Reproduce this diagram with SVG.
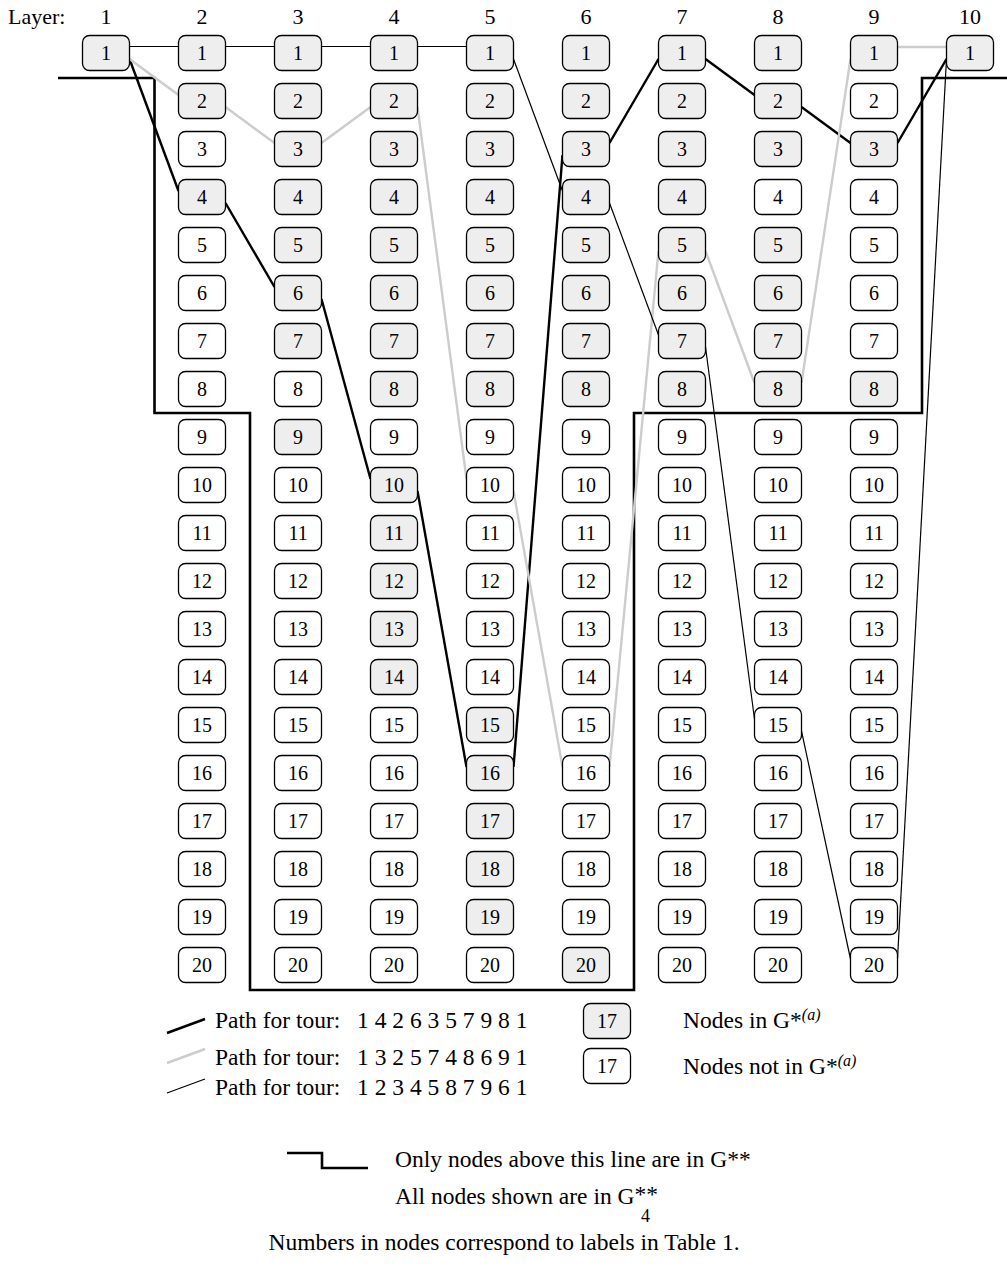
<svg xmlns="http://www.w3.org/2000/svg" width="1007" height="1268" viewBox="0 0 1007 1268">
<style>
.node rect{stroke:#000;stroke-width:1.3}
.g rect{fill:#eeeeee}
.w rect{fill:#ffffff}
.node text{font-family:"Liberation Serif","Times New Roman",serif;font-size:20px;text-anchor:middle;fill:#000}
.lbl{font-family:"Liberation Serif","Times New Roman",serif;font-size:22px;fill:#000}
.leg{font-family:"Liberation Serif","Times New Roman",serif;font-size:23.5px;fill:#000}
.mid{text-anchor:middle}
.thick{stroke:#000;stroke-width:2.4;fill:none}
.gray{stroke:#cccccc;stroke-width:2.4;fill:none}
.thin{stroke:#000;stroke-width:1.2;fill:none}
.bound{stroke:#000;stroke-width:2.6;fill:none}
</style>
<rect width="1007" height="1268" fill="#fff"/>
<g id="layer-labels">
<text class="lbl" x="8" y="24">Layer:</text>
<text class="lbl mid" x="106" y="24">1</text>
<text class="lbl mid" x="202" y="24">2</text>
<text class="lbl mid" x="298" y="24">3</text>
<text class="lbl mid" x="394" y="24">4</text>
<text class="lbl mid" x="490" y="24">5</text>
<text class="lbl mid" x="586" y="24">6</text>
<text class="lbl mid" x="682" y="24">7</text>
<text class="lbl mid" x="778" y="24">8</text>
<text class="lbl mid" x="874" y="24">9</text>
<text class="lbl mid" x="970" y="24">10</text>
</g>
<path id="gstarstar-boundary" class="bound" d="M58 78 H154.5 V413 H250 V990 H634 V413 H922 V78 H1007"/>
<g id="connectors">
<g id="tour-thick">
<line class="thick" x1="129.5" y1="59" x2="178.5" y2="191"/>
<line class="thick" x1="225.5" y1="203" x2="274.5" y2="287"/>
<line class="thick" x1="321.5" y1="299" x2="370.5" y2="479"/>
<line class="thick" x1="417.5" y1="491" x2="466.5" y2="767"/>
<line class="thick" x1="513.5" y1="767" x2="562.5" y2="155"/>
<line class="thick" x1="609.5" y1="143" x2="658.5" y2="59"/>
<line class="thick" x1="705.5" y1="59" x2="754.5" y2="95"/>
<line class="thick" x1="801.5" y1="107" x2="850.5" y2="143"/>
<line class="thick" x1="897.5" y1="143" x2="946.5" y2="59"/>
</g>
<g id="tour-gray">
<line class="gray" x1="129.5" y1="59" x2="178.5" y2="95"/>
<line class="gray" x1="225.5" y1="107" x2="274.5" y2="143"/>
<line class="gray" x1="321.5" y1="143" x2="370.5" y2="107"/>
<line class="gray" x1="417.5" y1="107" x2="466.5" y2="479"/>
<line class="gray" x1="513.5" y1="491" x2="562.5" y2="767"/>
<line class="gray" x1="609.5" y1="767" x2="658.5" y2="251"/>
<line class="gray" x1="705.5" y1="251" x2="754.5" y2="383"/>
<line class="gray" x1="801.5" y1="383" x2="850.5" y2="59"/>
<line class="gray" x1="897.5" y1="47" x2="946.5" y2="47"/>
</g>
<g id="tour-thin">
<line class="thin" x1="129.5" y1="46.5" x2="178.5" y2="46.5"/>
<line class="thin" x1="225.5" y1="46.5" x2="274.5" y2="46.5"/>
<line class="thin" x1="321.5" y1="46.5" x2="370.5" y2="46.5"/>
<line class="thin" x1="417.5" y1="46.5" x2="466.5" y2="46.5"/>
<line class="thin" x1="513.5" y1="59" x2="562.5" y2="191"/>
<line class="thin" x1="609.5" y1="203" x2="658.5" y2="335"/>
<line class="thin" x1="705.5" y1="347" x2="754.5" y2="719"/>
<line class="thin" x1="801.5" y1="731" x2="850.5" y2="959"/>
<line class="thin" x1="897.5" y1="959" x2="946.5" y2="59"/>
</g>
</g>
<g id="nodes">
<g id="L1n1" class="node g" transform="translate(106,53)"><rect x="-23.5" y="-17.5" width="47" height="35" rx="7"/><text y="7">1</text></g>
<g id="L2n1" class="node g" transform="translate(202,53)"><rect x="-23.5" y="-17.5" width="47" height="35" rx="7"/><text y="7">1</text></g>
<g id="L2n2" class="node g" transform="translate(202,101)"><rect x="-23.5" y="-17.5" width="47" height="35" rx="7"/><text y="7">2</text></g>
<g id="L2n3" class="node w" transform="translate(202,149)"><rect x="-23.5" y="-17.5" width="47" height="35" rx="7"/><text y="7">3</text></g>
<g id="L2n4" class="node g" transform="translate(202,197)"><rect x="-23.5" y="-17.5" width="47" height="35" rx="7"/><text y="7">4</text></g>
<g id="L2n5" class="node w" transform="translate(202,245)"><rect x="-23.5" y="-17.5" width="47" height="35" rx="7"/><text y="7">5</text></g>
<g id="L2n6" class="node w" transform="translate(202,293)"><rect x="-23.5" y="-17.5" width="47" height="35" rx="7"/><text y="7">6</text></g>
<g id="L2n7" class="node w" transform="translate(202,341)"><rect x="-23.5" y="-17.5" width="47" height="35" rx="7"/><text y="7">7</text></g>
<g id="L2n8" class="node w" transform="translate(202,389)"><rect x="-23.5" y="-17.5" width="47" height="35" rx="7"/><text y="7">8</text></g>
<g id="L2n9" class="node w" transform="translate(202,437)"><rect x="-23.5" y="-17.5" width="47" height="35" rx="7"/><text y="7">9</text></g>
<g id="L2n10" class="node w" transform="translate(202,485)"><rect x="-23.5" y="-17.5" width="47" height="35" rx="7"/><text y="7">10</text></g>
<g id="L2n11" class="node w" transform="translate(202,533)"><rect x="-23.5" y="-17.5" width="47" height="35" rx="7"/><text y="7">11</text></g>
<g id="L2n12" class="node w" transform="translate(202,581)"><rect x="-23.5" y="-17.5" width="47" height="35" rx="7"/><text y="7">12</text></g>
<g id="L2n13" class="node w" transform="translate(202,629)"><rect x="-23.5" y="-17.5" width="47" height="35" rx="7"/><text y="7">13</text></g>
<g id="L2n14" class="node w" transform="translate(202,677)"><rect x="-23.5" y="-17.5" width="47" height="35" rx="7"/><text y="7">14</text></g>
<g id="L2n15" class="node w" transform="translate(202,725)"><rect x="-23.5" y="-17.5" width="47" height="35" rx="7"/><text y="7">15</text></g>
<g id="L2n16" class="node w" transform="translate(202,773)"><rect x="-23.5" y="-17.5" width="47" height="35" rx="7"/><text y="7">16</text></g>
<g id="L2n17" class="node w" transform="translate(202,821)"><rect x="-23.5" y="-17.5" width="47" height="35" rx="7"/><text y="7">17</text></g>
<g id="L2n18" class="node w" transform="translate(202,869)"><rect x="-23.5" y="-17.5" width="47" height="35" rx="7"/><text y="7">18</text></g>
<g id="L2n19" class="node w" transform="translate(202,917)"><rect x="-23.5" y="-17.5" width="47" height="35" rx="7"/><text y="7">19</text></g>
<g id="L2n20" class="node w" transform="translate(202,965)"><rect x="-23.5" y="-17.5" width="47" height="35" rx="7"/><text y="7">20</text></g>
<g id="L3n1" class="node g" transform="translate(298,53)"><rect x="-23.5" y="-17.5" width="47" height="35" rx="7"/><text y="7">1</text></g>
<g id="L3n2" class="node g" transform="translate(298,101)"><rect x="-23.5" y="-17.5" width="47" height="35" rx="7"/><text y="7">2</text></g>
<g id="L3n3" class="node g" transform="translate(298,149)"><rect x="-23.5" y="-17.5" width="47" height="35" rx="7"/><text y="7">3</text></g>
<g id="L3n4" class="node g" transform="translate(298,197)"><rect x="-23.5" y="-17.5" width="47" height="35" rx="7"/><text y="7">4</text></g>
<g id="L3n5" class="node g" transform="translate(298,245)"><rect x="-23.5" y="-17.5" width="47" height="35" rx="7"/><text y="7">5</text></g>
<g id="L3n6" class="node g" transform="translate(298,293)"><rect x="-23.5" y="-17.5" width="47" height="35" rx="7"/><text y="7">6</text></g>
<g id="L3n7" class="node g" transform="translate(298,341)"><rect x="-23.5" y="-17.5" width="47" height="35" rx="7"/><text y="7">7</text></g>
<g id="L3n8" class="node w" transform="translate(298,389)"><rect x="-23.5" y="-17.5" width="47" height="35" rx="7"/><text y="7">8</text></g>
<g id="L3n9" class="node g" transform="translate(298,437)"><rect x="-23.5" y="-17.5" width="47" height="35" rx="7"/><text y="7">9</text></g>
<g id="L3n10" class="node w" transform="translate(298,485)"><rect x="-23.5" y="-17.5" width="47" height="35" rx="7"/><text y="7">10</text></g>
<g id="L3n11" class="node w" transform="translate(298,533)"><rect x="-23.5" y="-17.5" width="47" height="35" rx="7"/><text y="7">11</text></g>
<g id="L3n12" class="node w" transform="translate(298,581)"><rect x="-23.5" y="-17.5" width="47" height="35" rx="7"/><text y="7">12</text></g>
<g id="L3n13" class="node w" transform="translate(298,629)"><rect x="-23.5" y="-17.5" width="47" height="35" rx="7"/><text y="7">13</text></g>
<g id="L3n14" class="node w" transform="translate(298,677)"><rect x="-23.5" y="-17.5" width="47" height="35" rx="7"/><text y="7">14</text></g>
<g id="L3n15" class="node w" transform="translate(298,725)"><rect x="-23.5" y="-17.5" width="47" height="35" rx="7"/><text y="7">15</text></g>
<g id="L3n16" class="node w" transform="translate(298,773)"><rect x="-23.5" y="-17.5" width="47" height="35" rx="7"/><text y="7">16</text></g>
<g id="L3n17" class="node w" transform="translate(298,821)"><rect x="-23.5" y="-17.5" width="47" height="35" rx="7"/><text y="7">17</text></g>
<g id="L3n18" class="node w" transform="translate(298,869)"><rect x="-23.5" y="-17.5" width="47" height="35" rx="7"/><text y="7">18</text></g>
<g id="L3n19" class="node w" transform="translate(298,917)"><rect x="-23.5" y="-17.5" width="47" height="35" rx="7"/><text y="7">19</text></g>
<g id="L3n20" class="node w" transform="translate(298,965)"><rect x="-23.5" y="-17.5" width="47" height="35" rx="7"/><text y="7">20</text></g>
<g id="L4n1" class="node g" transform="translate(394,53)"><rect x="-23.5" y="-17.5" width="47" height="35" rx="7"/><text y="7">1</text></g>
<g id="L4n2" class="node g" transform="translate(394,101)"><rect x="-23.5" y="-17.5" width="47" height="35" rx="7"/><text y="7">2</text></g>
<g id="L4n3" class="node g" transform="translate(394,149)"><rect x="-23.5" y="-17.5" width="47" height="35" rx="7"/><text y="7">3</text></g>
<g id="L4n4" class="node g" transform="translate(394,197)"><rect x="-23.5" y="-17.5" width="47" height="35" rx="7"/><text y="7">4</text></g>
<g id="L4n5" class="node g" transform="translate(394,245)"><rect x="-23.5" y="-17.5" width="47" height="35" rx="7"/><text y="7">5</text></g>
<g id="L4n6" class="node g" transform="translate(394,293)"><rect x="-23.5" y="-17.5" width="47" height="35" rx="7"/><text y="7">6</text></g>
<g id="L4n7" class="node g" transform="translate(394,341)"><rect x="-23.5" y="-17.5" width="47" height="35" rx="7"/><text y="7">7</text></g>
<g id="L4n8" class="node g" transform="translate(394,389)"><rect x="-23.5" y="-17.5" width="47" height="35" rx="7"/><text y="7">8</text></g>
<g id="L4n9" class="node w" transform="translate(394,437)"><rect x="-23.5" y="-17.5" width="47" height="35" rx="7"/><text y="7">9</text></g>
<g id="L4n10" class="node g" transform="translate(394,485)"><rect x="-23.5" y="-17.5" width="47" height="35" rx="7"/><text y="7">10</text></g>
<g id="L4n11" class="node g" transform="translate(394,533)"><rect x="-23.5" y="-17.5" width="47" height="35" rx="7"/><text y="7">11</text></g>
<g id="L4n12" class="node g" transform="translate(394,581)"><rect x="-23.5" y="-17.5" width="47" height="35" rx="7"/><text y="7">12</text></g>
<g id="L4n13" class="node g" transform="translate(394,629)"><rect x="-23.5" y="-17.5" width="47" height="35" rx="7"/><text y="7">13</text></g>
<g id="L4n14" class="node g" transform="translate(394,677)"><rect x="-23.5" y="-17.5" width="47" height="35" rx="7"/><text y="7">14</text></g>
<g id="L4n15" class="node w" transform="translate(394,725)"><rect x="-23.5" y="-17.5" width="47" height="35" rx="7"/><text y="7">15</text></g>
<g id="L4n16" class="node w" transform="translate(394,773)"><rect x="-23.5" y="-17.5" width="47" height="35" rx="7"/><text y="7">16</text></g>
<g id="L4n17" class="node w" transform="translate(394,821)"><rect x="-23.5" y="-17.5" width="47" height="35" rx="7"/><text y="7">17</text></g>
<g id="L4n18" class="node w" transform="translate(394,869)"><rect x="-23.5" y="-17.5" width="47" height="35" rx="7"/><text y="7">18</text></g>
<g id="L4n19" class="node w" transform="translate(394,917)"><rect x="-23.5" y="-17.5" width="47" height="35" rx="7"/><text y="7">19</text></g>
<g id="L4n20" class="node w" transform="translate(394,965)"><rect x="-23.5" y="-17.5" width="47" height="35" rx="7"/><text y="7">20</text></g>
<g id="L5n1" class="node g" transform="translate(490,53)"><rect x="-23.5" y="-17.5" width="47" height="35" rx="7"/><text y="7">1</text></g>
<g id="L5n2" class="node g" transform="translate(490,101)"><rect x="-23.5" y="-17.5" width="47" height="35" rx="7"/><text y="7">2</text></g>
<g id="L5n3" class="node g" transform="translate(490,149)"><rect x="-23.5" y="-17.5" width="47" height="35" rx="7"/><text y="7">3</text></g>
<g id="L5n4" class="node g" transform="translate(490,197)"><rect x="-23.5" y="-17.5" width="47" height="35" rx="7"/><text y="7">4</text></g>
<g id="L5n5" class="node g" transform="translate(490,245)"><rect x="-23.5" y="-17.5" width="47" height="35" rx="7"/><text y="7">5</text></g>
<g id="L5n6" class="node g" transform="translate(490,293)"><rect x="-23.5" y="-17.5" width="47" height="35" rx="7"/><text y="7">6</text></g>
<g id="L5n7" class="node g" transform="translate(490,341)"><rect x="-23.5" y="-17.5" width="47" height="35" rx="7"/><text y="7">7</text></g>
<g id="L5n8" class="node g" transform="translate(490,389)"><rect x="-23.5" y="-17.5" width="47" height="35" rx="7"/><text y="7">8</text></g>
<g id="L5n9" class="node w" transform="translate(490,437)"><rect x="-23.5" y="-17.5" width="47" height="35" rx="7"/><text y="7">9</text></g>
<g id="L5n10" class="node w" transform="translate(490,485)"><rect x="-23.5" y="-17.5" width="47" height="35" rx="7"/><text y="7">10</text></g>
<g id="L5n11" class="node w" transform="translate(490,533)"><rect x="-23.5" y="-17.5" width="47" height="35" rx="7"/><text y="7">11</text></g>
<g id="L5n12" class="node w" transform="translate(490,581)"><rect x="-23.5" y="-17.5" width="47" height="35" rx="7"/><text y="7">12</text></g>
<g id="L5n13" class="node w" transform="translate(490,629)"><rect x="-23.5" y="-17.5" width="47" height="35" rx="7"/><text y="7">13</text></g>
<g id="L5n14" class="node w" transform="translate(490,677)"><rect x="-23.5" y="-17.5" width="47" height="35" rx="7"/><text y="7">14</text></g>
<g id="L5n15" class="node g" transform="translate(490,725)"><rect x="-23.5" y="-17.5" width="47" height="35" rx="7"/><text y="7">15</text></g>
<g id="L5n16" class="node g" transform="translate(490,773)"><rect x="-23.5" y="-17.5" width="47" height="35" rx="7"/><text y="7">16</text></g>
<g id="L5n17" class="node g" transform="translate(490,821)"><rect x="-23.5" y="-17.5" width="47" height="35" rx="7"/><text y="7">17</text></g>
<g id="L5n18" class="node g" transform="translate(490,869)"><rect x="-23.5" y="-17.5" width="47" height="35" rx="7"/><text y="7">18</text></g>
<g id="L5n19" class="node g" transform="translate(490,917)"><rect x="-23.5" y="-17.5" width="47" height="35" rx="7"/><text y="7">19</text></g>
<g id="L5n20" class="node w" transform="translate(490,965)"><rect x="-23.5" y="-17.5" width="47" height="35" rx="7"/><text y="7">20</text></g>
<g id="L6n1" class="node g" transform="translate(586,53)"><rect x="-23.5" y="-17.5" width="47" height="35" rx="7"/><text y="7">1</text></g>
<g id="L6n2" class="node g" transform="translate(586,101)"><rect x="-23.5" y="-17.5" width="47" height="35" rx="7"/><text y="7">2</text></g>
<g id="L6n3" class="node g" transform="translate(586,149)"><rect x="-23.5" y="-17.5" width="47" height="35" rx="7"/><text y="7">3</text></g>
<g id="L6n4" class="node g" transform="translate(586,197)"><rect x="-23.5" y="-17.5" width="47" height="35" rx="7"/><text y="7">4</text></g>
<g id="L6n5" class="node g" transform="translate(586,245)"><rect x="-23.5" y="-17.5" width="47" height="35" rx="7"/><text y="7">5</text></g>
<g id="L6n6" class="node g" transform="translate(586,293)"><rect x="-23.5" y="-17.5" width="47" height="35" rx="7"/><text y="7">6</text></g>
<g id="L6n7" class="node g" transform="translate(586,341)"><rect x="-23.5" y="-17.5" width="47" height="35" rx="7"/><text y="7">7</text></g>
<g id="L6n8" class="node g" transform="translate(586,389)"><rect x="-23.5" y="-17.5" width="47" height="35" rx="7"/><text y="7">8</text></g>
<g id="L6n9" class="node w" transform="translate(586,437)"><rect x="-23.5" y="-17.5" width="47" height="35" rx="7"/><text y="7">9</text></g>
<g id="L6n10" class="node w" transform="translate(586,485)"><rect x="-23.5" y="-17.5" width="47" height="35" rx="7"/><text y="7">10</text></g>
<g id="L6n11" class="node w" transform="translate(586,533)"><rect x="-23.5" y="-17.5" width="47" height="35" rx="7"/><text y="7">11</text></g>
<g id="L6n12" class="node w" transform="translate(586,581)"><rect x="-23.5" y="-17.5" width="47" height="35" rx="7"/><text y="7">12</text></g>
<g id="L6n13" class="node w" transform="translate(586,629)"><rect x="-23.5" y="-17.5" width="47" height="35" rx="7"/><text y="7">13</text></g>
<g id="L6n14" class="node w" transform="translate(586,677)"><rect x="-23.5" y="-17.5" width="47" height="35" rx="7"/><text y="7">14</text></g>
<g id="L6n15" class="node w" transform="translate(586,725)"><rect x="-23.5" y="-17.5" width="47" height="35" rx="7"/><text y="7">15</text></g>
<g id="L6n16" class="node w" transform="translate(586,773)"><rect x="-23.5" y="-17.5" width="47" height="35" rx="7"/><text y="7">16</text></g>
<g id="L6n17" class="node w" transform="translate(586,821)"><rect x="-23.5" y="-17.5" width="47" height="35" rx="7"/><text y="7">17</text></g>
<g id="L6n18" class="node w" transform="translate(586,869)"><rect x="-23.5" y="-17.5" width="47" height="35" rx="7"/><text y="7">18</text></g>
<g id="L6n19" class="node w" transform="translate(586,917)"><rect x="-23.5" y="-17.5" width="47" height="35" rx="7"/><text y="7">19</text></g>
<g id="L6n20" class="node g" transform="translate(586,965)"><rect x="-23.5" y="-17.5" width="47" height="35" rx="7"/><text y="7">20</text></g>
<g id="L7n1" class="node g" transform="translate(682,53)"><rect x="-23.5" y="-17.5" width="47" height="35" rx="7"/><text y="7">1</text></g>
<g id="L7n2" class="node g" transform="translate(682,101)"><rect x="-23.5" y="-17.5" width="47" height="35" rx="7"/><text y="7">2</text></g>
<g id="L7n3" class="node g" transform="translate(682,149)"><rect x="-23.5" y="-17.5" width="47" height="35" rx="7"/><text y="7">3</text></g>
<g id="L7n4" class="node g" transform="translate(682,197)"><rect x="-23.5" y="-17.5" width="47" height="35" rx="7"/><text y="7">4</text></g>
<g id="L7n5" class="node g" transform="translate(682,245)"><rect x="-23.5" y="-17.5" width="47" height="35" rx="7"/><text y="7">5</text></g>
<g id="L7n6" class="node g" transform="translate(682,293)"><rect x="-23.5" y="-17.5" width="47" height="35" rx="7"/><text y="7">6</text></g>
<g id="L7n7" class="node g" transform="translate(682,341)"><rect x="-23.5" y="-17.5" width="47" height="35" rx="7"/><text y="7">7</text></g>
<g id="L7n8" class="node g" transform="translate(682,389)"><rect x="-23.5" y="-17.5" width="47" height="35" rx="7"/><text y="7">8</text></g>
<g id="L7n9" class="node w" transform="translate(682,437)"><rect x="-23.5" y="-17.5" width="47" height="35" rx="7"/><text y="7">9</text></g>
<g id="L7n10" class="node w" transform="translate(682,485)"><rect x="-23.5" y="-17.5" width="47" height="35" rx="7"/><text y="7">10</text></g>
<g id="L7n11" class="node w" transform="translate(682,533)"><rect x="-23.5" y="-17.5" width="47" height="35" rx="7"/><text y="7">11</text></g>
<g id="L7n12" class="node w" transform="translate(682,581)"><rect x="-23.5" y="-17.5" width="47" height="35" rx="7"/><text y="7">12</text></g>
<g id="L7n13" class="node w" transform="translate(682,629)"><rect x="-23.5" y="-17.5" width="47" height="35" rx="7"/><text y="7">13</text></g>
<g id="L7n14" class="node w" transform="translate(682,677)"><rect x="-23.5" y="-17.5" width="47" height="35" rx="7"/><text y="7">14</text></g>
<g id="L7n15" class="node w" transform="translate(682,725)"><rect x="-23.5" y="-17.5" width="47" height="35" rx="7"/><text y="7">15</text></g>
<g id="L7n16" class="node w" transform="translate(682,773)"><rect x="-23.5" y="-17.5" width="47" height="35" rx="7"/><text y="7">16</text></g>
<g id="L7n17" class="node w" transform="translate(682,821)"><rect x="-23.5" y="-17.5" width="47" height="35" rx="7"/><text y="7">17</text></g>
<g id="L7n18" class="node w" transform="translate(682,869)"><rect x="-23.5" y="-17.5" width="47" height="35" rx="7"/><text y="7">18</text></g>
<g id="L7n19" class="node w" transform="translate(682,917)"><rect x="-23.5" y="-17.5" width="47" height="35" rx="7"/><text y="7">19</text></g>
<g id="L7n20" class="node w" transform="translate(682,965)"><rect x="-23.5" y="-17.5" width="47" height="35" rx="7"/><text y="7">20</text></g>
<g id="L8n1" class="node g" transform="translate(778,53)"><rect x="-23.5" y="-17.5" width="47" height="35" rx="7"/><text y="7">1</text></g>
<g id="L8n2" class="node g" transform="translate(778,101)"><rect x="-23.5" y="-17.5" width="47" height="35" rx="7"/><text y="7">2</text></g>
<g id="L8n3" class="node g" transform="translate(778,149)"><rect x="-23.5" y="-17.5" width="47" height="35" rx="7"/><text y="7">3</text></g>
<g id="L8n4" class="node w" transform="translate(778,197)"><rect x="-23.5" y="-17.5" width="47" height="35" rx="7"/><text y="7">4</text></g>
<g id="L8n5" class="node g" transform="translate(778,245)"><rect x="-23.5" y="-17.5" width="47" height="35" rx="7"/><text y="7">5</text></g>
<g id="L8n6" class="node g" transform="translate(778,293)"><rect x="-23.5" y="-17.5" width="47" height="35" rx="7"/><text y="7">6</text></g>
<g id="L8n7" class="node g" transform="translate(778,341)"><rect x="-23.5" y="-17.5" width="47" height="35" rx="7"/><text y="7">7</text></g>
<g id="L8n8" class="node g" transform="translate(778,389)"><rect x="-23.5" y="-17.5" width="47" height="35" rx="7"/><text y="7">8</text></g>
<g id="L8n9" class="node w" transform="translate(778,437)"><rect x="-23.5" y="-17.5" width="47" height="35" rx="7"/><text y="7">9</text></g>
<g id="L8n10" class="node w" transform="translate(778,485)"><rect x="-23.5" y="-17.5" width="47" height="35" rx="7"/><text y="7">10</text></g>
<g id="L8n11" class="node w" transform="translate(778,533)"><rect x="-23.5" y="-17.5" width="47" height="35" rx="7"/><text y="7">11</text></g>
<g id="L8n12" class="node w" transform="translate(778,581)"><rect x="-23.5" y="-17.5" width="47" height="35" rx="7"/><text y="7">12</text></g>
<g id="L8n13" class="node w" transform="translate(778,629)"><rect x="-23.5" y="-17.5" width="47" height="35" rx="7"/><text y="7">13</text></g>
<g id="L8n14" class="node w" transform="translate(778,677)"><rect x="-23.5" y="-17.5" width="47" height="35" rx="7"/><text y="7">14</text></g>
<g id="L8n15" class="node w" transform="translate(778,725)"><rect x="-23.5" y="-17.5" width="47" height="35" rx="7"/><text y="7">15</text></g>
<g id="L8n16" class="node w" transform="translate(778,773)"><rect x="-23.5" y="-17.5" width="47" height="35" rx="7"/><text y="7">16</text></g>
<g id="L8n17" class="node w" transform="translate(778,821)"><rect x="-23.5" y="-17.5" width="47" height="35" rx="7"/><text y="7">17</text></g>
<g id="L8n18" class="node w" transform="translate(778,869)"><rect x="-23.5" y="-17.5" width="47" height="35" rx="7"/><text y="7">18</text></g>
<g id="L8n19" class="node w" transform="translate(778,917)"><rect x="-23.5" y="-17.5" width="47" height="35" rx="7"/><text y="7">19</text></g>
<g id="L8n20" class="node w" transform="translate(778,965)"><rect x="-23.5" y="-17.5" width="47" height="35" rx="7"/><text y="7">20</text></g>
<g id="L9n1" class="node g" transform="translate(874,53)"><rect x="-23.5" y="-17.5" width="47" height="35" rx="7"/><text y="7">1</text></g>
<g id="L9n2" class="node w" transform="translate(874,101)"><rect x="-23.5" y="-17.5" width="47" height="35" rx="7"/><text y="7">2</text></g>
<g id="L9n3" class="node g" transform="translate(874,149)"><rect x="-23.5" y="-17.5" width="47" height="35" rx="7"/><text y="7">3</text></g>
<g id="L9n4" class="node w" transform="translate(874,197)"><rect x="-23.5" y="-17.5" width="47" height="35" rx="7"/><text y="7">4</text></g>
<g id="L9n5" class="node w" transform="translate(874,245)"><rect x="-23.5" y="-17.5" width="47" height="35" rx="7"/><text y="7">5</text></g>
<g id="L9n6" class="node w" transform="translate(874,293)"><rect x="-23.5" y="-17.5" width="47" height="35" rx="7"/><text y="7">6</text></g>
<g id="L9n7" class="node w" transform="translate(874,341)"><rect x="-23.5" y="-17.5" width="47" height="35" rx="7"/><text y="7">7</text></g>
<g id="L9n8" class="node g" transform="translate(874,389)"><rect x="-23.5" y="-17.5" width="47" height="35" rx="7"/><text y="7">8</text></g>
<g id="L9n9" class="node w" transform="translate(874,437)"><rect x="-23.5" y="-17.5" width="47" height="35" rx="7"/><text y="7">9</text></g>
<g id="L9n10" class="node w" transform="translate(874,485)"><rect x="-23.5" y="-17.5" width="47" height="35" rx="7"/><text y="7">10</text></g>
<g id="L9n11" class="node w" transform="translate(874,533)"><rect x="-23.5" y="-17.5" width="47" height="35" rx="7"/><text y="7">11</text></g>
<g id="L9n12" class="node w" transform="translate(874,581)"><rect x="-23.5" y="-17.5" width="47" height="35" rx="7"/><text y="7">12</text></g>
<g id="L9n13" class="node w" transform="translate(874,629)"><rect x="-23.5" y="-17.5" width="47" height="35" rx="7"/><text y="7">13</text></g>
<g id="L9n14" class="node w" transform="translate(874,677)"><rect x="-23.5" y="-17.5" width="47" height="35" rx="7"/><text y="7">14</text></g>
<g id="L9n15" class="node w" transform="translate(874,725)"><rect x="-23.5" y="-17.5" width="47" height="35" rx="7"/><text y="7">15</text></g>
<g id="L9n16" class="node w" transform="translate(874,773)"><rect x="-23.5" y="-17.5" width="47" height="35" rx="7"/><text y="7">16</text></g>
<g id="L9n17" class="node w" transform="translate(874,821)"><rect x="-23.5" y="-17.5" width="47" height="35" rx="7"/><text y="7">17</text></g>
<g id="L9n18" class="node w" transform="translate(874,869)"><rect x="-23.5" y="-17.5" width="47" height="35" rx="7"/><text y="7">18</text></g>
<g id="L9n19" class="node w" transform="translate(874,917)"><rect x="-23.5" y="-17.5" width="47" height="35" rx="7"/><text y="7">19</text></g>
<g id="L9n20" class="node w" transform="translate(874,965)"><rect x="-23.5" y="-17.5" width="47" height="35" rx="7"/><text y="7">20</text></g>
<g id="L10n1" class="node g" transform="translate(970,53)"><rect x="-23.5" y="-17.5" width="47" height="35" rx="7"/><text y="7">1</text></g>
</g>
<g id="legend">
<line class="thick" x1="167" y1="1033" x2="205" y2="1019"/>
<text class="leg" x="215" y="1028">Path for tour:<tspan x="357">1 4 2 6 3 5 7 9 8 1</tspan></text>
<line class="gray" x1="167" y1="1063" x2="205" y2="1049"/>
<text class="leg" x="215" y="1065">Path for tour:<tspan x="357">1 3 2 5 7 4 8 6 9 1</tspan></text>
<line class="thin" x1="167" y1="1093" x2="205" y2="1079"/>
<text class="leg" x="215" y="1095">Path for tour:<tspan x="357">1 2 3 4 5 8 7 9 6 1</tspan></text>
<g id="legend-in" class="node g" transform="translate(607,1021)"><rect x="-23.5" y="-17.5" width="47" height="35" rx="7"/><text y="7">17</text></g>
<text class="leg" x="683" y="1028">Nodes in G<tspan>*</tspan><tspan font-style="italic" font-size="16" dy="-8">(a)</tspan></text>
<g id="legend-out" class="node w" transform="translate(607,1066)"><rect x="-23.5" y="-17.5" width="47" height="35" rx="7"/><text y="7">17</text></g>
<text class="leg" x="683" y="1074">Nodes not in G<tspan>*</tspan><tspan font-style="italic" font-size="16" dy="-8">(a)</tspan></text>
<path class="bound" d="M287 1153 H322 V1168 H368"/>
<text class="leg" x="395" y="1167">Only nodes above this line are in G**</text>
<text class="leg" x="395" y="1204">All nodes shown are in G<tspan dy="-2">**</tspan><tspan x="641" dy="20" style="font-size:18px">4</tspan></text>
<text class="leg mid" x="504" y="1250">Numbers in nodes correspond to labels in Table 1.</text>
</g>
</svg>
